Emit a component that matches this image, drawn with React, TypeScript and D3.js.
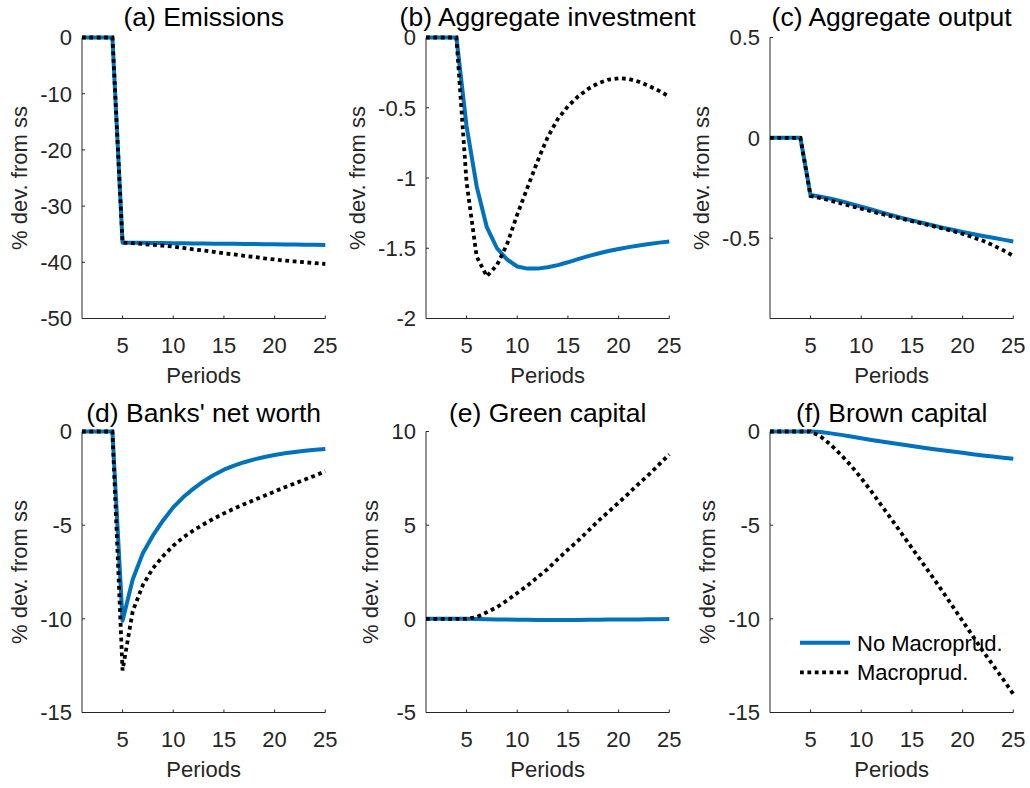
import React, { useEffect, useRef } from "react";
import * as d3 from "d3";

const periods = [1, 2, 3, 4, 5, 6, 7, 8, 9, 10, 11, 12, 13, 14, 15, 16, 17, 18, 19, 20, 21, 22, 23, 24, 25];
const xTicks = [5, 10, 15, 20, 25];

const emissionsNoMacro = [0, 0, 0, 0, -36.5, -36.52, -36.54, -36.56, -36.58, -36.6, -36.62, -36.64, -36.66, -36.68, -36.7, -36.72, -36.74, -36.76, -36.78, -36.8, -36.82, -36.84, -36.86, -36.88, -36.9];
const emissionsMacro = [0, 0, 0, 0, -36.5, -36.6, -36.75, -36.9, -37.05, -37.2, -37.45, -37.7, -37.9, -38.15, -38.4, -38.6, -38.85, -39.05, -39.3, -39.5, -39.7, -39.85, -40.0, -40.15, -40.3];

const investNoMacro = [0, 0, 0, 0, -0.63, -1.06, -1.35, -1.5, -1.58, -1.63, -1.645, -1.645, -1.635, -1.62, -1.6, -1.578, -1.556, -1.537, -1.52, -1.505, -1.492, -1.48, -1.47, -1.46, -1.452];
const investMacro = [0, 0, 0, 0, -1.03, -1.56, -1.7, -1.62, -1.47, -1.26, -1.07, -0.88, -0.71, -0.58, -0.49, -0.42, -0.365, -0.325, -0.3, -0.29, -0.295, -0.315, -0.345, -0.38, -0.42];

const outputNoMacro = [0, 0, 0, 0, -0.285, -0.293, -0.303, -0.315, -0.329, -0.343, -0.357, -0.371, -0.385, -0.399, -0.411, -0.423, -0.435, -0.447, -0.458, -0.469, -0.479, -0.489, -0.498, -0.507, -0.516];
const outputMacro = [0, 0, 0, 0, -0.29, -0.3, -0.313, -0.326, -0.34, -0.353, -0.366, -0.379, -0.391, -0.403, -0.415, -0.427, -0.439, -0.451, -0.464, -0.478, -0.495, -0.513, -0.535, -0.56, -0.588];

const netWorthNoMacro = [0, 0, 0, 0, -10.1, -7.9, -6.5, -5.55, -4.75, -4.05, -3.5, -3.05, -2.65, -2.32, -2.04, -1.82, -1.64, -1.49, -1.36, -1.25, -1.16, -1.09, -1.03, -0.98, -0.93];
const netWorthMacro = [0, 0, 0, 0, -12.75, -9.6, -8.2, -7.3, -6.65, -6.1, -5.65, -5.28, -4.95, -4.65, -4.37, -4.12, -3.88, -3.65, -3.43, -3.2, -2.98, -2.77, -2.56, -2.35, -2.13];

const greenNoMacro = [0, 0, 0, 0, 0, -0.01, -0.02, -0.03, -0.04, -0.05, -0.05, -0.06, -0.06, -0.06, -0.06, -0.06, -0.05, -0.05, -0.04, -0.04, -0.03, -0.03, -0.02, -0.02, -0.01];
const greenMacro = [0, 0, 0, 0, 0, 0.09, 0.35, 0.62, 0.98, 1.38, 1.77, 2.22, 2.66, 3.19, 3.69, 4.17, 4.7, 5.23, 5.71, 6.2, 6.7, 7.22, 7.71, 8.24, 8.78];

const brownNoMacro = [0, 0, 0, 0, 0, -0.03, -0.1, -0.18, -0.27, -0.36, -0.45, -0.53, -0.61, -0.69, -0.77, -0.85, -0.93, -1.0, -1.07, -1.14, -1.21, -1.28, -1.34, -1.4, -1.46];
const brownMacro = [0, 0, 0, 0, 0, -0.27, -0.71, -1.24, -1.83, -2.49, -3.2, -3.95, -4.7, -5.46, -6.22, -6.98, -7.74, -8.52, -9.32, -10.12, -10.92, -11.72, -12.48, -13.23, -14.02];

const emissionsTicks = [0, -10, -20, -30, -40, -50];
const investTicks = [0, -0.5, -1, -1.5, -2];
const outputTicks = [0.5, 0, -0.5];
const netWorthTicks = [0, -5, -10, -15];
const greenTicks = [10, 5, 0, -5];
const brownTicks = [0, -5, -10, -15];

const titles = ["(a) Emissions", "(b) Aggregate investment", "(c) Aggregate output", "(d) Banks' net worth", "(e) Green capital", "(f) Brown capital"];
const seriesNames = ["No Macroprud.", "Macroprud."];

const panels = [
  { title: titles[0], a: emissionsNoMacro, b: emissionsMacro, domain: [-50, 0], ticks: emissionsTicks },
  { title: titles[1], a: investNoMacro, b: investMacro, domain: [-2, 0], ticks: investTicks },
  { title: titles[2], a: outputNoMacro, b: outputMacro, domain: [-0.9, 0.5], ticks: outputTicks },
  { title: titles[3], a: netWorthNoMacro, b: netWorthMacro, domain: [-15, 0], ticks: netWorthTicks },
  { title: titles[4], a: greenNoMacro, b: greenMacro, domain: [-5, 10], ticks: greenTicks },
  { title: titles[5], a: brownNoMacro, b: brownMacro, domain: [-15, 0], ticks: brownTicks },
];

const W = 1030;
const H = 788;
const colLeft = [82, 426, 770];
const rowTop = [37.5, 431.5];
const titleGap = [12, 10];
const pw = 243.3;
const ph = 281;
const BLUE = "#0072BD";
const AX = "#262626";
const FONT = "'Liberation Sans', Arial, Helvetica, sans-serif";

export default function App() {
  const ref = useRef<SVGSVGElement>(null);
  useEffect(() => {
    const svg = d3.select(ref.current);
    svg.selectAll("*").remove();
    panels.forEach((p, i) => {
      const row = Math.floor(i / 3);
      const left = colLeft[i % 3];
      const top = rowTop[row];
      const x = d3.scaleLinear().domain([1, 25]).range([left, left + pw]);
      const y = d3.scaleLinear().domain(p.domain).range([top + ph, top]);
      const g = svg.append("g");

      g.append("line").attr("x1", left).attr("x2", left).attr("y1", top).attr("y2", top + ph)
        .attr("stroke", AX).attr("stroke-width", 1);
      g.append("line").attr("x1", left).attr("x2", left + pw).attr("y1", top + ph).attr("y2", top + ph)
        .attr("stroke", AX).attr("stroke-width", 1);

      xTicks.forEach((t) => {
        g.append("line").attr("x1", x(t)).attr("x2", x(t)).attr("y1", top + ph).attr("y2", top + ph - 3)
          .attr("stroke", AX).attr("stroke-width", 1);
        g.append("text").attr("x", x(t)).attr("y", top + ph + 34).attr("text-anchor", "middle")
          .attr("font-size", 22).attr("font-family", FONT).attr("fill", AX).text(String(t));
      });
      let maxW = 0;
      p.ticks.forEach((t) => {
        g.append("line").attr("x1", left).attr("x2", left + 3).attr("y1", y(t)).attr("y2", y(t))
          .attr("stroke", AX).attr("stroke-width", 1);
        const tx = g.append("text").attr("x", left - 10).attr("y", y(t)).attr("dy", "0.36em")
          .attr("text-anchor", "end").attr("font-size", 22).attr("font-family", FONT).attr("fill", AX)
          .text(String(t));
        const node = tx.node() as SVGTextElement;
        maxW = Math.max(maxW, node.getComputedTextLength());
      });

      const cx = left + pw / 2;
      g.append("text").attr("x", cx).attr("y", top + ph + 64).attr("text-anchor", "middle")
        .attr("font-size", 22).attr("font-family", FONT).attr("fill", AX).text("Periods");
      const ylx = left - 10 - maxW - 21;
      const cy = top + ph / 2;
      g.append("text").attr("transform", `translate(${ylx},${cy}) rotate(-90)`)
        .attr("text-anchor", "middle").attr("dy", "0.35em")
        .attr("font-size", 22).attr("font-family", FONT).attr("fill", AX).text("% dev. from ss");
      g.append("text").attr("x", cx).attr("y", top - titleGap[row]).attr("text-anchor", "middle")
        .attr("font-size", 26.5).attr("font-family", FONT).attr("fill", "#000").text(p.title);

      const line = d3.line<number>().x((_, k) => x(periods[k])).y((v) => y(v));
      g.append("path").attr("d", line(p.a) || "").attr("fill", "none").attr("stroke", BLUE)
        .attr("stroke-width", 4).attr("stroke-linejoin", "round");
      g.append("path").attr("d", line(p.b) || "").attr("fill", "none").attr("stroke", "#000")
        .attr("stroke-width", 3.8).attr("stroke-dasharray", "3.8 3.6");

      if (i === 5) {
        const lg = svg.append("g");
        const ys = [642.7, 672.3];
        lg.append("line").attr("x1", 800).attr("x2", 850).attr("y1", ys[0]).attr("y2", ys[0])
          .attr("stroke", BLUE).attr("stroke-width", 4);
        lg.append("line").attr("x1", 800).attr("x2", 849).attr("y1", ys[1]).attr("y2", ys[1])
          .attr("stroke", "#000").attr("stroke-width", 3.8).attr("stroke-dasharray", "3.8 3.6");
        seriesNames.forEach((s, k) => {
          lg.append("text").attr("x", 857).attr("y", ys[k]).attr("dy", "0.36em")
            .attr("font-size", 22).attr("font-family", FONT).attr("fill", "#000").text(s);
        });
      }
    });
  }, []);
  return (
    <svg ref={ref} width={W} height={H} style={{ position: "absolute", left: 0, top: 0, background: "#fff" }} />
  );
}
